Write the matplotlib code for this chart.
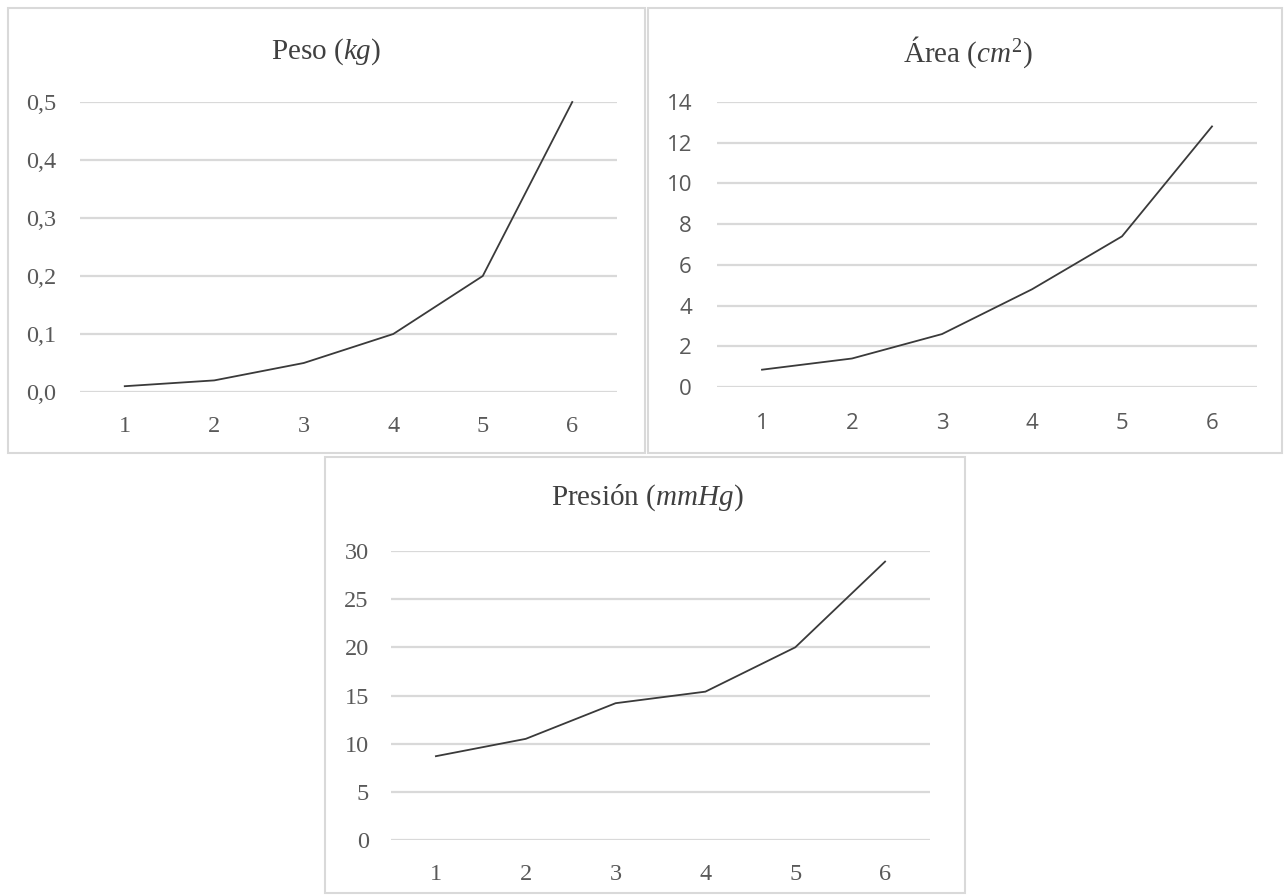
import matplotlib
matplotlib.use('Agg')
import matplotlib.pyplot as plt
from matplotlib.patches import Rectangle

# data
x_vals = [1, 2, 3, 4, 5, 6]
peso = [0.01, 0.02, 0.05, 0.10, 0.20, 0.50]
area = [0.85, 1.4, 2.6, 4.8, 7.4, 12.8]
presion = [8.7, 10.5, 14.2, 15.4, 20.0, 28.9]

peso_ticks = [0.0, 0.1, 0.2, 0.3, 0.4, 0.5]
area_ticks = [0, 2, 4, 6, 8, 10, 12, 14]
presion_ticks = [0, 5, 10, 15, 20, 25, 30]

plt.rcParams['font.family'] = 'Liberation Serif'
plt.rcParams['mathtext.fontset'] = 'custom'
plt.rcParams['mathtext.rm'] = 'Liberation Serif'
plt.rcParams['mathtext.it'] = 'Liberation Serif:italic'

W, H = 1288, 896
fig = plt.figure(figsize=(W / 100, H / 100), dpi=100)

txt_color = '#595959'
grid_color = '#d9d9d9'
line_color = '#3a3a3a'


def px_rect(x0, y0, x1, y1):
    # pixel box (top-left origin) -> figure fraction [left, bottom, width, height]
    return [x0 / W, 1 - y1 / H, (x1 - x0) / W, (y1 - y0) / H]


def panel(box, ax_box, y, ticks, labels, title, tick_font, tick_size, ypad, xpad, title_xy):
    fig.add_artist(Rectangle(box[:2], box[2], box[3], transform=fig.transFigure,
                             fill=False, edgecolor=grid_color, linewidth=1.5))
    ax = fig.add_axes(ax_box)
    ax.plot(x_vals, y, color=line_color, linewidth=1.3, clip_on=False)
    ax.set_xlim(0.5, 6.5)
    ax.set_ylim(ticks[0], ticks[-1])
    ax.set_yticks(ticks)
    ax.set_yticklabels(labels)
    ax.set_xticks(x_vals)
    ax.grid(axis='y', color=grid_color, linewidth=1.6)
    ax.set_axisbelow(True)
    for s in ax.spines.values():
        s.set_visible(False)
    ax.tick_params(length=0, colors=txt_color, labelsize=tick_size)
    ax.tick_params(axis='y', pad=ypad)
    ax.tick_params(axis='x', pad=xpad)
    for lab in ax.get_xticklabels() + ax.get_yticklabels():
        lab.set_fontfamily(tick_font)
    fig.text(title_xy[0] / W, 1 - title_xy[1] / H, title, ha='center', va='center',
             fontsize=21, color='#404040')
    return ax


panel(px_rect(8, 8, 645, 453), px_rect(80, 102, 617, 392), peso, peso_ticks,
      ['0,0', '0,1', '0,2', '0,3', '0,4', '0,5'], r'Peso ($kg$)', 'Liberation Serif',
      17.5, 17, 17, (326, 52))

panel(px_rect(648, 8, 1282, 453), px_rect(717, 102, 1257, 387), area, area_ticks,
      [str(t) for t in area_ticks], r'Área ($cm^{\mathrm{2}}$)', 'Open Sans',
      16, 18, 19, (968, 52))

panel(px_rect(325, 457, 965, 893), px_rect(391, 551, 930, 840), presion, presion_ticks,
      [str(t) for t in presion_ticks], r'Presión ($mmHg$)', 'Liberation Serif',
      17.5, 16, 17, (647, 498))

fig.savefig('out.png', dpi=100, facecolor='white')
